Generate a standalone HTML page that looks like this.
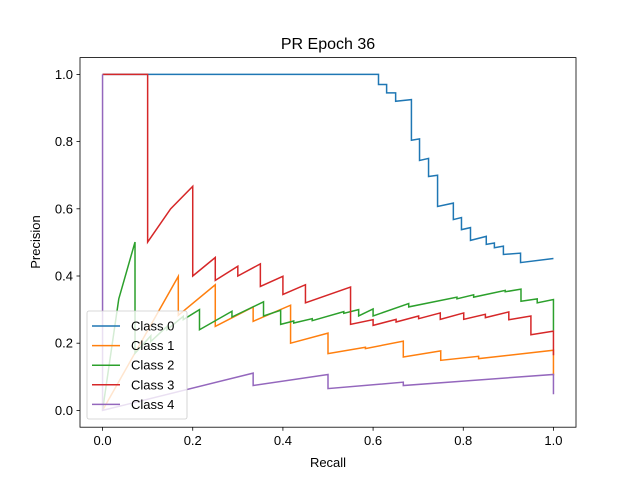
<!DOCTYPE html>
<html><head><meta charset="utf-8"><style>
body{margin:0;background:#fff;}
svg text{font-family:"Liberation Sans","DejaVu Sans",sans-serif;}
</style></head><body>
<svg id="chart" width="640" height="480" viewBox="0 0 640 480" xmlns="http://www.w3.org/2000/svg">
<rect width="640" height="480" fill="#fff"/>
<text x="328" y="49" text-anchor="middle" font-size="16">PR Epoch 36</text>
<text x="328" y="467" text-anchor="middle" font-size="13">Recall</text>
<text transform="translate(40,242) rotate(-90)" text-anchor="middle" font-size="13">Precision</text>
<g id="series"></g>
<g id="axes"></g>
<g id="legend"></g>
</svg>
<script>
const xTicks=[0,0.2,0.4,0.6,0.8,1.0];
const yTicks=[0,0.2,0.4,0.6,0.8,1.0];
const tickLabels=["0.0","0.2","0.4","0.6","0.8","1.0"];
const classNames=["Class 0","Class 1","Class 2","Class 3","Class 4"];
const colors=["#1f77b4","#ff7f0e","#2ca02c","#d62728","#9467bd"];
const recall0=[0,0.612,0.612,0.63,0.63,0.65,0.65,0.685,0.685,0.703,0.703,0.723,0.723,0.743,0.743,0.778,0.778,0.796,0.796,0.816,0.816,0.851,0.851,0.869,0.869,0.889,0.889,0.927,0.927,1.0];
const precision0=[1,1,0.97,0.97,0.945,0.945,0.92,0.925,0.804,0.808,0.744,0.75,0.696,0.70,0.607,0.617,0.568,0.574,0.538,0.544,0.506,0.518,0.494,0.498,0.484,0.489,0.464,0.468,0.44,0.452];
const recall1=[0,0.168,0.168,0.25,0.25,0.334,0.334,0.417,0.417,0.5,0.5,0.583,0.583,0.667,0.667,0.75,0.75,0.834,0.834,1.0,1.0];
const precision1=[0,0.399,0.283,0.374,0.25,0.308,0.265,0.313,0.2,0.23,0.169,0.188,0.184,0.206,0.159,0.177,0.149,0.161,0.154,0.179,0.104];
const recall2=[0,0.036,0.072,0.072,0.107,0.107,0.143,0.143,0.179,0.179,0.215,0.215,0.287,0.287,0.357,0.357,0.395,0.395,0.424,0.424,0.465,0.465,0.535,0.535,0.568,0.568,0.6,0.6,0.679,0.679,0.786,0.786,0.823,0.823,0.893,0.893,0.928,0.928,0.964,0.964,1.0,1.0];
const precision2=[0,0.332,0.501,0.17,0.222,0.205,0.25,0.24,0.28,0.27,0.3,0.24,0.295,0.278,0.323,0.281,0.298,0.256,0.266,0.26,0.273,0.267,0.294,0.289,0.3,0.281,0.302,0.281,0.318,0.308,0.337,0.332,0.344,0.337,0.357,0.353,0.361,0.325,0.332,0.32,0.33,0.238];
const recall3=[0,0.1,0.1,0.151,0.2,0.2,0.25,0.25,0.3,0.3,0.35,0.35,0.4,0.4,0.45,0.45,0.55,0.55,0.6,0.6,0.651,0.651,0.701,0.701,0.749,0.749,0.801,0.801,0.849,0.849,0.901,0.901,0.95,0.95,1.0,1.0];
const precision3=[1,1,0.501,0.6,0.667,0.4,0.455,0.387,0.429,0.4,0.436,0.369,0.399,0.345,0.374,0.32,0.367,0.256,0.27,0.253,0.271,0.263,0.281,0.273,0.29,0.271,0.29,0.271,0.286,0.276,0.293,0.27,0.281,0.225,0.236,0.164];
const recall4=[0,0,0.334,0.334,0.5,0.5,0.667,0.667,1.0,1.0];
const precision4=[1,0,0.111,0.074,0.107,0.065,0.084,0.074,0.107,0.048];
const allRecall=[recall0,recall1,recall2,recall3,recall4];
const allPrecision=[precision0,precision1,precision2,precision3,precision4];

const L=80,R=576,T=57.6,B=427.2,xmin=-0.05,xmax=1.05,ymin=-0.05,ymax=1.05;
function sx(v){return L+(v-xmin)/(xmax-xmin)*(R-L);}
function sy(v){return B-(v-ymin)/(ymax-ymin)*(B-T);}
const NS="http://www.w3.org/2000/svg";
function mk(tag,attrs,parent){const e=document.createElementNS(NS,tag);for(const k in attrs)e.setAttribute(k,attrs[k]);parent.appendChild(e);return e;}

const sg=document.getElementById('series');
for(let c=0;c<5;c++){
  const pts=allRecall[c].map((r,i)=>sx(r).toFixed(2)+','+sy(allPrecision[c][i]).toFixed(2)).join(' ');
  const pl=mk('polyline',{points:pts,fill:'none',stroke:colors[c],'stroke-width':1.5,'stroke-linejoin':'miter'},sg);
  
  
}
const ag=document.getElementById('axes');
const frame=mk('rect',{x:L,y:T,width:R-L,height:B-T,fill:'none',stroke:'#000','stroke-width':0.8},ag);


xTicks.forEach((v,i)=>{
  const x=sx(v);
  const t=mk('line',{x1:x,x2:x,y1:B,y2:B+3.5,stroke:'#000','stroke-width':0.8},ag);
  
  
  const tx=mk('text',{x:x,y:B+18,'text-anchor':'middle','font-size':13},ag);
  tx.textContent=tickLabels[i];
  
  
});
yTicks.forEach((v,i)=>{
  const y=sy(v);
  const t=mk('line',{x1:L-3.5,x2:L,y1:y,y2:y,stroke:'#000','stroke-width':0.8},ag);
  
  
  const tx=mk('text',{x:L-7,y:y+4.5,'text-anchor':'end','font-size':13},ag);
  tx.textContent=tickLabels[i];
  
  
});
const lg=document.getElementById('legend');


mk('rect',{x:87,y:311,width:100,height:108,rx:2,fill:'#fff','fill-opacity':0.8,stroke:'#ccc','stroke-width':0.8},lg);
classNames.forEach((n,i)=>{
  const y=326+i*19.6;
  const ln=mk('line',{x1:92,x2:120,y1:y,y2:y,stroke:colors[i],'stroke-width':1.5},lg);
  
  
  const tx=mk('text',{x:131,y:y+4.5,'font-size':13},lg);
  tx.textContent=n;
  
  
});
</script>
</body></html>
